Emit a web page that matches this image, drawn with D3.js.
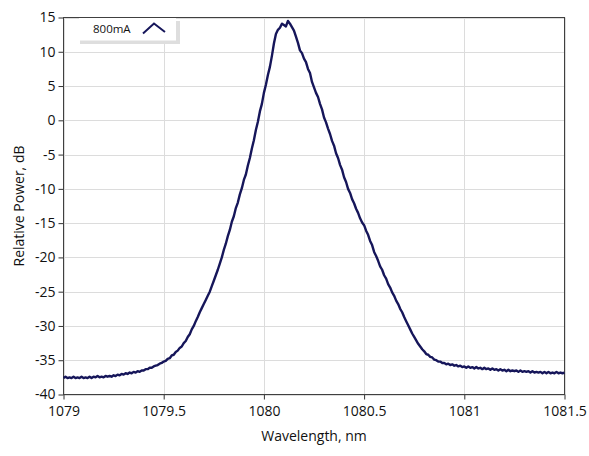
<!DOCTYPE html>
<html><head><meta charset="utf-8">
<script src="https://cdn.jsdelivr.net/npm/d3@7"></script>
<style>
html,body{margin:0;padding:0;background:#fff;}
svg{display:block;font-family:"Open Sans","Noto Sans",sans-serif;}
</style></head>
<body>
<script>
// ---- data ----
const seriesName = "800mA";
const wlStart = 1079.0, wlStep = 0.01;
const power = [
-37.6,-37.4,-37.6,-37.5,-37.6,-37.4,-37.6,-37.5,-37.6,-37.4,
-37.6,-37.5,-37.6,-37.4,-37.6,-37.4,-37.5,-37.3,-37.5,-37.4,
-37.5,-37.3,-37.4,-37.3,-37.4,-37.2,-37.3,-37.1,-37.2,-37.0,
-37.1,-36.9,-37.0,-36.8,-36.9,-36.7,-36.8,-36.6,-36.7,-36.5,
-36.5,-36.3,-36.3,-36.1,-36.1,-35.9,-35.8,-35.7,-35.5,-35.4,
-35.2,-35.1,-34.8,-34.7,-34.3,-34.2,-33.8,-33.6,-33.2,-33.0,
-32.5,-32.2,-31.6,-31.2,-30.5,-30.0,-29.3,-28.7,-28.0,-27.4,
-26.8,-26.2,-25.6,-25.0,-24.2,-23.4,-22.6,-21.8,-20.9,-20.0,
-18.9,-18.0,-16.9,-16.0,-14.8,-14.0,-12.8,-12.0,-10.8,-9.9,
-8.7,-7.9,-6.6,-5.5,-4.1,-2.9,-1.4,-0.2,1.3,2.4,
4.0,5.2,6.6,7.8,9.4,11.2,12.6,13.2,13.5,14.1,
13.9,13.7,14.5,14.1,13.6,13.1,12.2,11.3,10.2,9.8,
9.0,8.5,7.5,6.9,5.6,4.8,4.0,3.4,2.4,1.6,
0.4,-0.3,-1.2,-2.0,-3.0,-3.7,-4.8,-5.5,-6.5,-7.2,
-8.3,-9.0,-10.0,-10.6,-11.5,-12.1,-12.9,-13.5,-14.3,-14.9,
-15.3,-16.1,-16.7,-17.6,-18.2,-19.2,-19.8,-20.5,-21.3,-21.8,
-22.6,-23.1,-23.9,-24.4,-25.1,-25.6,-26.3,-26.8,-27.5,-28.0,
-28.7,-29.3,-29.9,-30.5,-31.1,-31.6,-32.1,-32.6,-33.0,-33.4,
-33.7,-34.1,-34.2,-34.5,-34.6,-34.9,-35.0,-35.2,-35.2,-35.4,
-35.4,-35.6,-35.5,-35.7,-35.6,-35.8,-35.7,-35.9,-35.8,-36.0,
-35.9,-36.1,-35.9,-36.1,-36.0,-36.2,-36.0,-36.2,-36.1,-36.3,
-36.1,-36.3,-36.2,-36.4,-36.2,-36.4,-36.3,-36.5,-36.3,-36.5,
-36.4,-36.6,-36.4,-36.6,-36.5,-36.6,-36.5,-36.7,-36.5,-36.7,
-36.6,-36.7,-36.6,-36.8,-36.6,-36.8,-36.7,-36.8,-36.7,-36.9,
-36.7,-36.9,-36.7,-36.9,-36.8,-36.9,-36.7,-36.9,-36.8,-36.9,
-36.8
];
const xTicks = [1079, 1079.5, 1080, 1080.5, 1081, 1081.5];
const yTicks = [-40,-35,-30,-25,-20,-15,-10,-5,0,5,10,15];
const xLabel = "Wavelength, nm";
const yLabel = "Relative Power, dB";

// ---- layout ----
const W = 589, H = 456;
const L = 63.5, R = 564.5, T = 17.5, B = 394.5;
const lineColor = "#16165a";

const data = power.map((v,i)=>({x: wlStart + i*wlStep, y: v}));

const x = d3.scaleLinear().domain([1079, 1081.5]).range([L, R]);
const y = d3.scaleLinear().domain([-40, 15]).range([B, T]);

const svg = d3.select("body").append("svg").attr("width", W).attr("height", H);

// grid
svg.append("g").selectAll("line.v").data(xTicks).join("line")
  .attr("x1", d=>Math.round(x(d))+0.5).attr("x2", d=>Math.round(x(d))+0.5)
  .attr("y1", T).attr("y2", B).attr("stroke", "#dcdcdc").attr("stroke-width", 1);
svg.append("g").selectAll("line.h").data(yTicks).join("line")
  .attr("y1", d=>Math.round(y(d))+0.5).attr("y2", d=>Math.round(y(d))+0.5)
  .attr("x1", L).attr("x2", R).attr("stroke", "#dcdcdc").attr("stroke-width", 1);

// axes
const xAxis = d3.axisBottom(x).tickValues(xTicks).tickSize(5).tickSizeOuter(0)
  .tickFormat(d=>String(d));
const gx = svg.append("g").attr("transform", `translate(0,${B})`).call(xAxis);
gx.select(".domain").remove();
gx.selectAll(".tick line").attr("stroke", "#333");
gx.selectAll(".tick text").attr("font-size", 14).attr("fill", "#111")
  .attr("font-family", "'Open Sans','Noto Sans',sans-serif").attr("dy", "0.95em");

const yAxis = d3.axisLeft(y).tickValues(yTicks).tickSize(5).tickSizeOuter(0)
  .tickFormat(d=>String(d));
const gy = svg.append("g").attr("transform", `translate(${L},0)`).call(yAxis);
gy.select(".domain").remove();
gy.selectAll(".tick line").attr("stroke", "#333");
gy.selectAll(".tick text").attr("font-size", 14).attr("fill", "#111")
  .attr("font-family", "'Open Sans','Noto Sans',sans-serif").attr("x", -8);

// frame
svg.append("rect").attr("x", L).attr("y", T).attr("width", R-L).attr("height", B-T)
  .attr("fill", "none").attr("stroke", "#404040").attr("stroke-width", 1);

// series line
const line = d3.line().x(d=>x(d.x)).y(d=>y(d.y));
svg.append("path").datum(data).attr("d", line)
  .attr("fill", "none").attr("stroke", lineColor).attr("stroke-width", 2.4)
  .attr("stroke-linejoin", "round");

// legend
const lg = svg.append("g");
lg.append("rect").attr("x", 80).attr("y", 21).attr("width", 100).attr("height", 23).attr("fill", "#dedede");
lg.append("rect").attr("x", 79).attr("y", 18).attr("width", 97).attr("height", 22.5).attr("fill", "#fff");
lg.append("text").attr("x", 93).attr("y", 33).attr("font-size", 11.5).attr("fill", "#111").text(seriesName);
lg.append("path").attr("d", "M143,33.5 L154,23.5 L165,32")
  .attr("fill", "none").attr("stroke", lineColor).attr("stroke-width", 2);

// axis titles
svg.append("text").attr("x", (L+R)/2).attr("y", 441).attr("text-anchor", "middle")
  .attr("font-size", 14).attr("fill", "#111").text(xLabel);
svg.append("text").attr("transform", `translate(24,${(T+B)/2}) rotate(-90)`)
  .attr("text-anchor", "middle").attr("font-size", 14).attr("fill", "#111").text(yLabel);
</script>
</body></html>
